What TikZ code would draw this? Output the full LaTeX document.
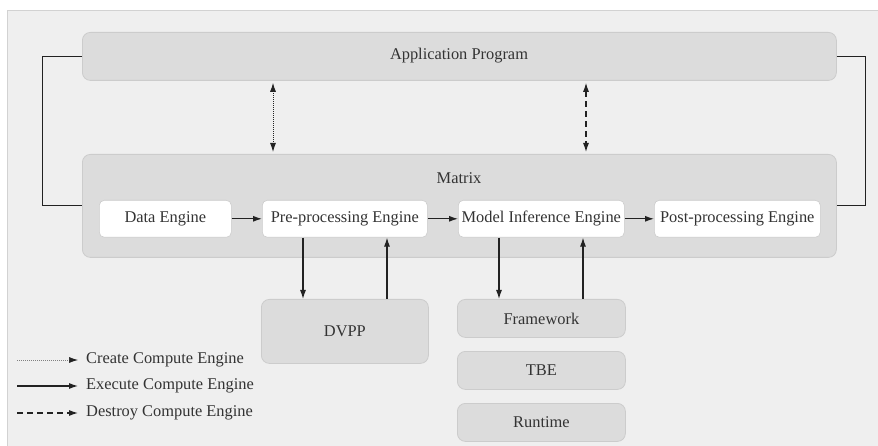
\documentclass[tikz,border=0pt]{standalone}
\usepackage{fontspec}
\setmainfont{Liberation Serif}
\usetikzlibrary{arrows.meta}
\definecolor{panel}{HTML}{EFEFEF}
\definecolor{panelline}{HTML}{D2D2D2}
\definecolor{boxfill}{HTML}{DCDCDC}
\definecolor{boxline}{HTML}{CCCCCC}
\definecolor{txt}{HTML}{333333}
\definecolor{wire}{HTML}{222222}
\tikzset{
  greybox/.style={draw=boxline, fill=boxfill, rounded corners=8pt, line width=0.8pt,
    anchor=north west, inner sep=0pt, text=txt, font=\fontsize{16.4}{18}\selectfont},
  whitebox/.style={draw=boxline, fill=white, rounded corners=5pt, line width=0.6pt,
    anchor=north west, inner sep=0pt, text=txt, font=\fontsize{16.4}{18}\selectfont},
  lbl/.style={text=txt, font=\fontsize{16.4}{18}\selectfont},
  legtext/.style={anchor=west, inner sep=0pt, text=txt, font=\fontsize{16.4}{18}\selectfont},
  wireline/.style={draw=wire, line width=1.1pt},
  arr/.style={wireline, -{Latex[length=9pt,width=6pt,color=wire]}},
  darr/.style={wireline, {Latex[length=9pt,width=6pt]}-{Latex[length=9pt,width=6pt]}},
  dottedline/.style={dash pattern=on 1pt off 1pt, line width=0.9pt},
  dashedline/.style={dash pattern=on 6pt off 4pt}
}
\begin{document}
\begin{tikzpicture}[x=1pt,y=-1pt]
\useasboundingbox (0,0) rectangle (878,446);
\fill[white] (0,0) rectangle (878,446);
\draw[panelline, fill=panel, line width=1pt] (900,11) -- (7,11) -- (7,470);
\fill[panel] (7.5,11.5) rectangle (900,470);
% main boxes
\node[greybox, minimum width=754pt, minimum height=48pt] (app) at (82,32) {};
\node[lbl] (apptext) at (459,56) {Application Program};
\node[greybox, minimum width=754pt, minimum height=103pt] (matrix) at (82,154) {};
\node[lbl] (matrixtext) at (459,178) {Matrix};
% engines
\node[whitebox, minimum width=132pt, minimum height=37pt] (data) at (99,200) {};
\node[lbl] (datat) at (data.center) {Data Engine};
\node[whitebox, minimum width=165pt, minimum height=37pt] (pre) at (262,200) {};
\node[lbl] (pret) at (pre.center) {Pre-processing Engine};
\node[whitebox, minimum width=166pt, minimum height=37pt] (model) at (458,200) {};
\node[lbl] (modelt) at (model.center) {Model Inference Engine};
\node[whitebox, minimum width=166pt, minimum height=37pt] (post) at (654,200) {};
\node[lbl] (postt) at (post.center) {Post-processing Engine};
% lower boxes
\node[greybox, minimum width=167pt, minimum height=64pt] (dvpp) at (261,299) {};
\node[lbl] (dvppt) at (dvpp.center) {DVPP};
\node[greybox, minimum width=168pt, minimum height=38pt] (fw) at (457,299) {};
\node[lbl] (fwt) at (fw.center) {Framework};
\node[greybox, minimum width=168pt, minimum height=38pt] (tbe) at (457,351) {};
\node[lbl] (tbet) at (tbe.center) {TBE};
\node[greybox, minimum width=168pt, minimum height=38pt] (rt) at (457,403) {};
\node[lbl] (rtt) at (rt.center) {Runtime};
% side loops
\draw[wire, line width=1pt] (app.west) -- ++(-40,0) |- (matrix.west);
\draw[wire, line width=1pt] (app.east) -- ++(29,0) |- (matrix.east);
% create / destroy
\coordinate (cx) at (273,0);
\coordinate (dx) at (586,0);
\draw[darr, dottedline, shorten <=2pt, shorten >=2pt] (app.south -| cx) -- (matrix.north -| cx);
\draw[darr, dashedline, shorten <=2pt, shorten >=2pt] (app.south -| dx) -- (matrix.north -| dx);
% flow
\draw[arr] (data.east) -- (pre.west);
\draw[arr] (pre.east) -- (model.west);
\draw[arr] (model.east) -- (post.west);
% dvpp
\coordinate (p1) at (303,0);
\coordinate (p2) at (387,0);
\draw[arr] (pre.south -| p1) -- (dvpp.north -| p1);
\draw[arr] (dvpp.north -| p2) -- (pre.south -| p2);
\coordinate (m1) at (499,0);
\coordinate (m2) at (583,0);
\draw[arr] (model.south -| m1) -- (fw.north -| m1);
\draw[arr] (fw.north -| m2) -- (model.south -| m2);
% legend
\node[legtext] (l1) at (86,360) {Create Compute Engine};
\node[legtext] (l2) at (86,386) {Execute Compute Engine};
\node[legtext] (l3) at (86,413) {Destroy Compute Engine};
\coordinate (s1) at (17,360);
\coordinate (s2) at (17,386);
\coordinate (s3) at (17,413);
\draw[arr, dottedline, draw=gray, line width=0.7pt] (s1) -- ([xshift=-8pt]l1.west);
\draw[arr] (s2) -- ([xshift=-8pt]l2.west);
\draw[arr, dashedline] (s3) -- ([xshift=-8pt]l3.west);
\end{tikzpicture}
\end{document}
